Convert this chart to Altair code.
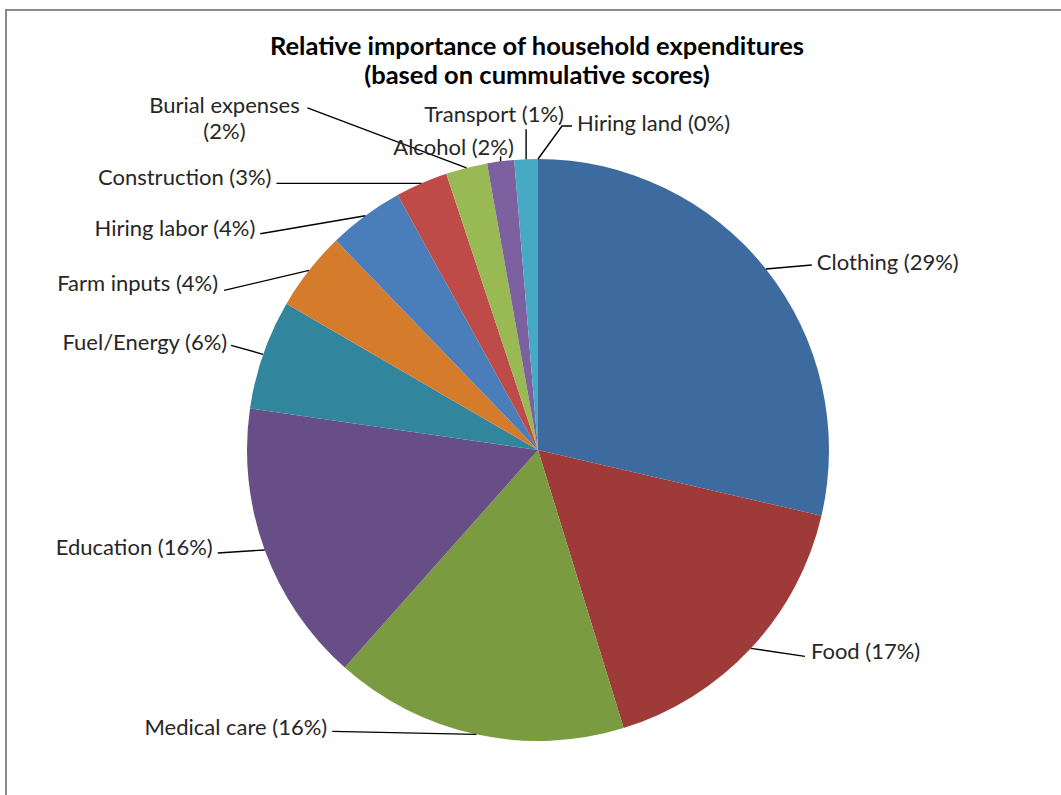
import math
import pandas as pd
import altair as alt

# ---------------- data ----------------
names = ["Clothing", "Food", "Medical care", "Education", "Fuel/Energy", "Farm inputs",
         "Hiring labor", "Construction", "Burial expenses", "Alcohol", "Transport", "Hiring land"]
shares = [28.6, 16.6, 16.3, 15.7, 6.1, 4.4, 4.2, 2.9, 2.3, 1.5, 1.3, 0.0]
pct_labels = [29, 17, 16, 16, 6, 4, 4, 3, 2, 2, 1, 0]
colors = ["#3D6B9F", "#9E3B38", "#7A9B3F", "#684E86", "#31859C", "#D47C2C",
          "#4A7EBB", "#BE4B48", "#98B954", "#7D60A0", "#46AAC5", "#F79646"]
title_lines = ["Relative importance of household expenditures", "(based on cummulative scores)"]

# ---------------- layout (styling only) ----------------
W, H = 1061, 795
CX, CY, R = 538, 450, 291
FONT = "Lato"
LABEL_SIZE = 22
LINE_GAP = 26
# leader path offsets from slice edge, text alignment and text offset from leader end
layout = {
    "Clothing":        dict(path=[(46, -4)], align="left", t=(5, -2)),
    "Food":            dict(path=[(54, 8)], align="left", t=(6, -4)),
    "Medical care":    dict(path=[(-144, -3)], align="right", t=(-5, -3)),
    "Education":       dict(path=[(-47, 3)], align="right", t=(-5, -5)),
    "Fuel/Energy":     dict(path=[(-32, -9)], align="right", t=(-4, -2)),
    "Farm inputs":     dict(path=[(-85, 20)], align="right", t=(-6, -6)),
    "Hiring labor":    dict(path=[(-105, 18)], align="right", t=(-5, -5)),
    "Construction":    dict(path=[(-145, 0)], align="right", t=(-5, -5)),
    "Burial expenses": dict(path=[(-159, -60)], align="center", t=(-83, -2), wrap=True),
    "Alcohol":         dict(path=[(0, -5)], align="center", t=(-47, -8)),
    "Transport":       dict(path=[(0, -30)], align="center", t=(-32, -14)),
    "Hiring land":     dict(path=[(24, -33), (34, -33)], align="left", t=(5, -2)),
}

df = pd.DataFrame({"name": names, "share": shares, "pct": pct_labels, "idx": list(range(len(names)))})

total = sum(shares)
cum = 0.0
line_rows, text_rows = [], []
for n, s, p in zip(names, shares, pct_labels):
    mid = (cum + s / 2) / total * 2 * math.pi
    cum += s
    ex = CX + R * math.sin(mid)
    ey = CY - R * math.cos(mid)
    lay = layout[n]
    pts = [(ex, ey)] + [(ex + dx, ey + dy) for dx, dy in lay["path"]]
    for k, (x, y) in enumerate(pts):
        line_rows.append({"name": n, "k": k, "x": x, "y": y})
    lx, ly = pts[-1]
    lines = [n, f"({p}%)"] if lay.get("wrap") else [f"{n} ({p}%)"]
    for j, t in enumerate(lines):
        text_rows.append({"name": n, "text": t, "x": lx + lay["t"][0],
                          "y": ly + lay["t"][1] + j * LINE_GAP, "align": lay["align"]})

ldf = pd.DataFrame(line_rows)
tdf = pd.DataFrame(text_rows)
ttl = pd.DataFrame({"text": title_lines, "x": [537, 537], "y": [47, 76]})

xs = alt.Scale(domain=[0, W], nice=False, zero=False)
ys = alt.Scale(domain=[0, H], nice=False, zero=False, reverse=True)

pie = alt.Chart(df).mark_arc(radius=R).encode(
    theta=alt.Theta("share:Q", stack=True),
    order=alt.Order("idx:Q"),
    color=alt.Color("name:N", scale=alt.Scale(domain=names, range=colors), legend=None),
    x=alt.value(CX),
    y=alt.value(CY),
)

leaders = alt.Chart(ldf).mark_line(color="#000000", strokeWidth=1.4).encode(
    x=alt.X("x:Q", scale=xs, axis=None),
    y=alt.Y("y:Q", scale=ys, axis=None),
    detail="name:N",
    order="k:Q",
)

def text_layer(align):
    return alt.Chart(tdf[tdf["align"] == align]).mark_text(
        align=align, baseline="middle", font=FONT, fontSize=LABEL_SIZE, color="#262626"
    ).encode(
        x=alt.X("x:Q", scale=xs, axis=None),
        y=alt.Y("y:Q", scale=ys, axis=None),
        text="text:N",
    )

title = alt.Chart(ttl).mark_text(
    align="center", baseline="middle", font=FONT, fontSize=25.5, fontWeight="bold", color="#000000"
).encode(
    x=alt.X("x:Q", scale=xs, axis=None),
    y=alt.Y("y:Q", scale=ys, axis=None),
    text="text:N",
)

border = alt.Chart(pd.DataFrame({"a": [0]})).mark_rect(
    fillOpacity=0, stroke="#8a8a8a", strokeWidth=2
).encode(x=alt.value(6), y=alt.value(10), x2=alt.value(1300), y2=alt.value(1100))

chart = alt.layer(
    border, pie, leaders, text_layer("left"), text_layer("right"), text_layer("center"), title
).properties(
    width=W, height=H, padding=0, autosize=alt.AutoSizeParams(type="none"), background="white"
).configure_view(strokeWidth=0)

chart.save("out.html", embed_options={"renderer": "svg", "actions": False})
